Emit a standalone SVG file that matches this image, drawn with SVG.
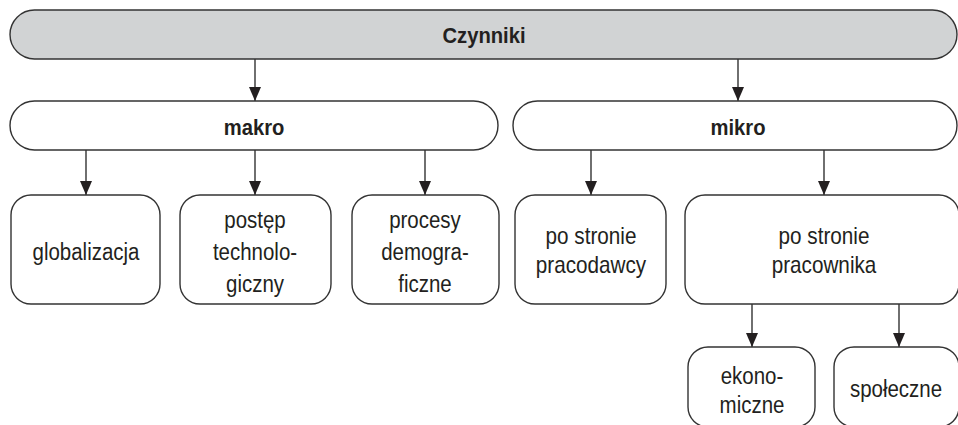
<svg xmlns="http://www.w3.org/2000/svg" width="958" height="425" viewBox="0 0 958 425">
<defs>
<marker id="a" markerWidth="14" markerHeight="12" refX="14" refY="6" orient="auto" markerUnits="userSpaceOnUse" viewBox="0 0 14 12">
<path d="M0,0 L14,6 L0,12 Z" fill="#231f20"/>
</marker>
</defs>
<style>
.n{fill:#fff;stroke:#333;stroke-width:1.4}
.top{fill:#d1d3d4;stroke:#333;stroke-width:1.4}
.t{font-family:"Liberation Sans",Arial,sans-serif;font-size:23px;fill:#231f20;text-anchor:middle}
.b{font-weight:bold;font-size:22px}
.c{stroke:#333;stroke-width:1.4;fill:none;marker-end:url(#a)}
</style>
<rect width="958" height="425" fill="#fff"/>
<g id="connectors">
<line class="c" x1="255" y1="59" x2="255" y2="101"/>
<line class="c" x1="738" y1="59" x2="738" y2="101"/>
<line class="c" x1="86" y1="150" x2="86" y2="195"/>
<line class="c" x1="255" y1="150" x2="255" y2="195"/>
<line class="c" x1="425" y1="150" x2="425" y2="195"/>
<line class="c" x1="591" y1="150" x2="591" y2="195"/>
<line class="c" x1="824" y1="150" x2="824" y2="195"/>
<line class="c" x1="752" y1="304" x2="752" y2="347"/>
<line class="c" x1="899" y1="304" x2="899" y2="347"/>
</g>
<g id="czynniki">
<rect class="top" x="10" y="10" width="947" height="49" rx="24.5"/>
<text class="t b" transform="translate(484 43) scale(0.92 1)">Czynniki</text>
</g>
<g id="makro">
<rect class="n" x="10" y="101" width="488" height="49" rx="24.5"/>
<text class="t b" transform="translate(254 135) scale(0.92 1)">makro</text>
</g>
<g id="mikro">
<rect class="n" x="513" y="101" width="444" height="49" rx="24.5"/>
<text class="t b" transform="translate(738 135) scale(0.92 1)">mikro</text>
</g>
<g id="globalizacja">
<rect class="n" x="11" y="195" width="149" height="109" rx="20"/>
<text class="t" transform="translate(86 260) scale(0.89 1)">globalizacja</text>
</g>
<g id="postep">
<rect class="n" x="180" y="195" width="151" height="109" rx="20"/>
<text class="t" transform="translate(255 228) scale(0.89 1)">postęp</text>
<text class="t" transform="translate(255 260) scale(0.89 1)">technolo-</text>
<text class="t" transform="translate(255 292) scale(0.89 1)">giczny</text>
</g>
<g id="procesy">
<rect class="n" x="352" y="195" width="147" height="109" rx="20"/>
<text class="t" transform="translate(425 228) scale(0.89 1)">procesy</text>
<text class="t" transform="translate(425 260) scale(0.89 1)">demogra-</text>
<text class="t" transform="translate(425 292) scale(0.89 1)">ficzne</text>
</g>
<g id="pracodawcy">
<rect class="n" x="515" y="195" width="151" height="109" rx="20"/>
<text class="t" transform="translate(591 244) scale(0.9 1)">po stronie</text>
<text class="t" transform="translate(591 273) scale(0.9 1)">pracodawcy</text>
</g>
<g id="pracownika">
<rect class="n" x="685" y="195" width="274" height="109" rx="20"/>
<text class="t" transform="translate(824 244) scale(0.9 1)">po stronie</text>
<text class="t" transform="translate(824 273) scale(0.9 1)">pracownika</text>
</g>
<g id="ekonomiczne">
<rect class="n" x="688" y="347" width="127" height="80" rx="20"/>
<text class="t" transform="translate(752 384) scale(0.89 1)">ekono-</text>
<text class="t" transform="translate(752 413) scale(0.89 1)">miczne</text>
</g>
<g id="spoleczne">
<rect class="n" x="834" y="347" width="125" height="80" rx="20"/>
<text class="t" transform="translate(896 397) scale(0.89 1)">społeczne</text>
</g>
</svg>
